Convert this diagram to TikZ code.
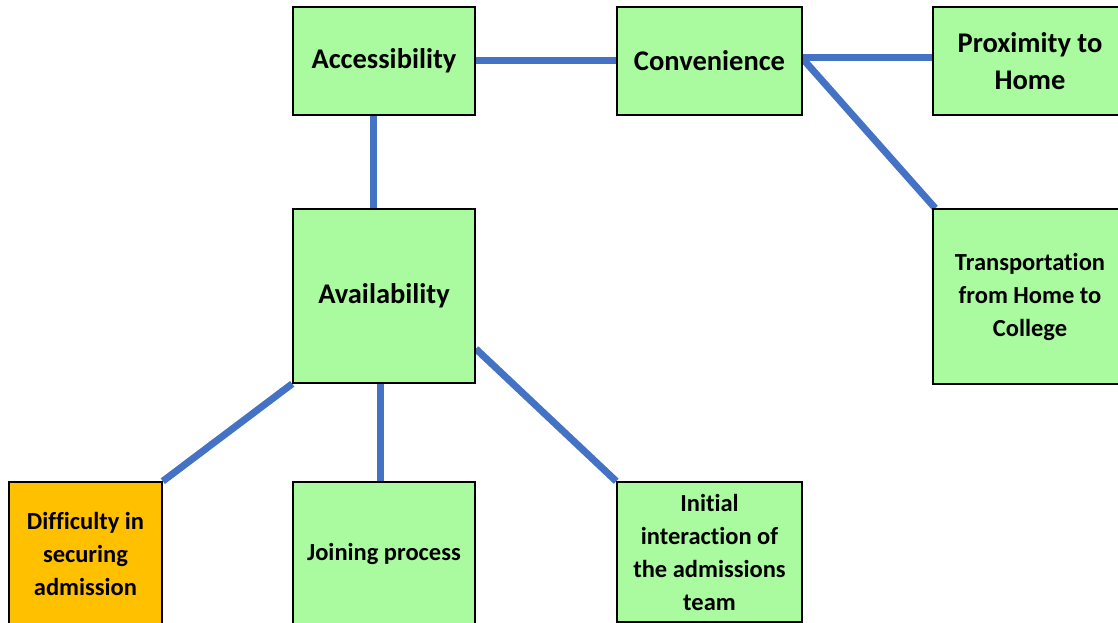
\documentclass[tikz,border=0pt]{standalone}
\usepackage{fontspec}
\setmainfont{Carlito}[Ligatures=NoCommon]
\usetikzlibrary{backgrounds}
\definecolor{boxgreen}{RGB}{170,250,160}
\definecolor{boxorange}{RGB}{255,192,0}
\definecolor{linkblue}{RGB}{68,114,196}
\tikzset{
  box/.style={draw=black, line width=1.6pt, fill=boxgreen, align=center,
    font=\bfseries\fontsize{28.5}{37}\selectfont, inner sep=0pt},
  smallbox/.style={box, font=\bfseries\fontsize{24.5}{33}\selectfont},
  link/.style={draw=linkblue, line width=7pt}
}
\begin{document}
\begin{tikzpicture}[x=1pt,y=-1pt]
\useasboundingbox (0,0) rectangle (1118,623);
\clip (0,0) rectangle (1118,623);
% top row
\node[box, minimum width=182pt, minimum height=108pt] (acc) at (384,61) {\raisebox{-2pt}{Accessibility}};
\node[box, minimum width=185pt, minimum height=108pt] (conv) at (709.5,61) {\raisebox{-2pt}{Convenience}};
\node[box, minimum width=194pt, minimum height=108pt] (prox) at (1030,61) {Proximity to\\Home};
% middle row
\node[box, minimum width=182pt, minimum height=174pt] (avail) at (384,296) {\raisebox{-2pt}{Availability}};
\node[smallbox, minimum width=194pt, minimum height=175pt] (trans) at (1030,296.5) {Transportation\\from Home to\\College};
% bottom row
\node[smallbox, fill=boxorange, minimum width=153pt, minimum height=144pt] (diff) at (85.5,554) {Difficulty in\\securing\\admission};
\node[smallbox, minimum width=182pt, minimum height=144pt] (join) at (384,554) {Joining process};
\node[smallbox, minimum width=185pt, minimum height=140pt] (init) at (709.5,552) {Initial\\interaction of\\the admissions\\team};
% connectors, drawn behind the boxes
\begin{scope}[on background layer]
\fill[white] (0,0) rectangle (1118,623);
\draw[link] (acc.east) -- (conv.west);
\draw[link] ([yshift=3pt]conv.east) -- ([yshift=3pt]prox.west);
\draw[link] ([xshift=1pt,yshift=1pt]conv.east) -- ([xshift=3pt]trans.north west);
\draw[link] ([xshift=-11pt]acc.south) -- ([xshift=-11pt]avail.north);
\draw[link] (avail.south west) -- (diff.north east);
\draw[link] ([xshift=-4pt]avail.south) -- ([xshift=-4pt]join.north);
\draw[link] ([yshift=35pt]avail.south east) -- (init.north west);
\end{scope}
\end{tikzpicture}
\end{document}
